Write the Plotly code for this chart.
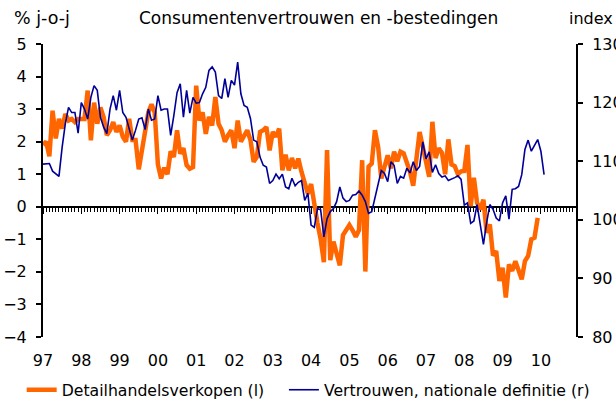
import plotly.graph_objects as go

# ---------------- data ----------------
year_labels = ["97", "98", "99", "00", "01", "02", "03", "04", "05", "06", "07", "08", "09", "10"]

# Detailhandelsverkopen, % j-o-j (left axis), monthly from Jan 1997
retail_sales = [
    1.9, 2.0, 1.55, 2.95, 2.1, 2.7, 2.4, 2.85, 2.65, 2.7, 2.6, 2.7,
    2.7, 2.7, 3.57, 2.04, 3.2, 2.55, 3.05, 2.75, 2.2, 2.35, 2.6, 2.3,
    2.5, 2.15, 2.0, 2.7, 2.05, 2.05, 1.15, 1.75, 2.4, 2.9, 3.15, 2.9,
    1.3, 0.87, 1.2, 1.0, 1.7, 1.53, 2.35, 1.63, 1.8, 1.28, 1.17, 1.22,
    3.72, 2.65, 2.9, 2.24, 2.76, 2.5, 3.37, 2.55, 2.35, 2.0, 2.2, 2.35,
    1.8, 2.65, 2.0, 2.15, 2.35, 2.05, 1.38, 1.53, 2.3, 2.35, 2.45, 1.73,
    2.3, 2.15, 2.4, 1.12, 1.6, 1.12, 1.5, 1.18, 1.48, 1.07, 0.72, 0.4,
    0.7, 0.0, -0.5, -1.0, -1.7, 1.74, -1.64, -1.07, -1.5, -1.8, -0.87, -0.72,
    -0.56, -0.72, -0.92, -0.72, 1.43, -1.99, 1.23, 1.33, 2.35, 1.84, 0.87, 1.23,
    1.58, 1.18, 1.69, 1.4, 1.69, 1.64, 1.4, 1.07, 0.65, 1.6, 2.3, 1.84,
    1.38, 0.92, 2.61, 1.5, 1.8, 1.66, 1.0, 2.07, 1.3, 1.25, 1.0, 1.09,
    1.1, 1.9, 0.02, 0.89, 0.12, -0.08, 0.22, -0.8, -0.54, -1.5, -1.36, -2.28,
    -1.87, -2.79, -1.77, -1.97, -1.67, -1.92, -2.23, -1.67, -1.51, -1.0, -0.95, -0.34,
]

# Vertrouwen, nationale definitie, index (right axis), monthly from Jan 1997
confidence = [
    109.5, 109.5, 109.6, 108.3, 107.8, 107.4, 112.4, 116.4, 119.2, 118.3, 118.3, 114.8,
    120.0, 118.9, 117.2, 120.9, 122.9, 122.1, 117.5, 115.8, 114.7, 118.9, 121.2, 118.7,
    122.1, 118.3, 117.5, 115.3, 113.6, 115.3, 117.2, 117.4, 115.4, 118.9, 117.0, 117.2,
    121.2, 118.7, 118.9, 118.9, 114.4, 117.8, 121.7, 123.2, 117.5, 122.1, 118.2, 120.9,
    119.9, 120.0, 121.5, 122.6, 125.5, 126.1, 125.2, 121.2, 120.7, 124.1, 120.9, 123.8,
    123.0, 126.9, 121.5, 119.5, 119.2, 117.3, 113.6, 113.3, 110.7, 109.3, 109.0, 106.2,
    106.7, 107.8, 107.0, 107.8, 105.6, 105.3, 107.1, 105.8, 106.4, 106.7, 103.3, 104.5,
    99.1, 98.7, 101.9, 101.7, 97.1, 100.2, 101.4, 101.9, 103.1, 105.6, 103.7, 103.1,
    103.3, 104.2, 104.3, 104.9, 104.2, 103.1, 101.1, 101.4, 103.7, 106.5, 108.4, 107.9,
    106.5, 109.9, 109.3, 106.2, 107.4, 107.1, 108.8, 108.0, 109.9, 108.4, 109.1, 113.3,
    110.4, 111.6, 108.1, 109.4, 107.9, 107.3, 107.5, 106.7, 106.9, 107.2, 107.5, 106.9,
    102.5, 102.9, 99.4, 99.8, 102.6, 99.5, 95.8, 99.5, 102.6, 101.8, 100.3, 99.8,
    102.9, 104.1, 100.1, 105.2, 105.3, 105.7, 107.7, 112.0, 113.6, 111.7, 112.7, 113.7,
    111.7, 107.7,
]

months_retail = list(range(len(retail_sales)))
months_conf = list(range(len(confidence)))
year_ticks = [12 * i for i in range(len(year_labels))]

FONT = "DejaVu Sans"
ORANGE = "#FF6600"
BLUE = "#000099"
X_RANGE = [0, 167]

fig = go.Figure()
fig.add_trace(go.Scatter(
    x=months_retail, y=retail_sales, mode="lines",
    name="Detailhandelsverkopen (l)",
    line=dict(color=ORANGE, width=4.5),
    xaxis="x", yaxis="y", legend="legend",
))
fig.add_trace(go.Scatter(
    x=months_conf, y=confidence, mode="lines",
    name="Vertrouwen, nationale definitie (r)",
    line=dict(color=BLUE, width=1.6),
    xaxis="x2", yaxis="y2", legend="legend2",
))

legend_common = dict(
    orientation="h", y=-0.181, xanchor="left", yanchor="middle",
    font=dict(size=15.7), itemwidth=30,
    bgcolor="rgba(0,0,0,0)", borderwidth=0,
)

fig.update_layout(
    width=616, height=400,
    margin=dict(l=43, r=40, t=44, b=63, autoexpand=False),
    paper_bgcolor="white", plot_bgcolor="white",
    font=dict(family=FONT, size=16, color="black"),
    showlegend=True,
    legend=dict(x=-0.04, **legend_common),
    legend2=dict(x=0.452, **legend_common),
    # zero line with monthly ticks
    xaxis=dict(
        range=X_RANGE, anchor="free", position=4 / 9,
        showline=True, linecolor="black", linewidth=2,
        ticks="outside", tickmode="linear", tick0=0, dtick=12,
        ticklen=6, tickwidth=1, tickcolor="black",
        minor=dict(ticks="outside", tickmode="linear", tick0=0, dtick=1,
                   ticklen=4, tickwidth=1, tickcolor="black", showgrid=False),
        showticklabels=False, showgrid=False, zeroline=False,
        layer="below traces", automargin=False,
    ),
    # year labels at the bottom
    xaxis2=dict(
        range=X_RANGE, overlaying="x", anchor="y2", side="bottom",
        tickmode="array", tickvals=year_ticks, ticktext=year_labels,
        ticks="", showline=False, showgrid=False, zeroline=False,
        ticklabelstandoff=12, tickfont=dict(size=16), automargin=False,
    ),
    yaxis=dict(
        range=[-4, 5], tickmode="linear", tick0=0, dtick=1,
        showline=True, linecolor="black", linewidth=2,
        ticks="outside", ticklen=5, tickwidth=1.5, tickcolor="black",
        showgrid=False, zeroline=False, anchor="x",
        ticklabelstandoff=6, tickfont=dict(size=16), automargin=False,
    ),
    yaxis2=dict(
        range=[80, 130], tickmode="linear", tick0=80, dtick=10,
        overlaying="y", side="right", anchor="x2",
        showline=True, linecolor="black", linewidth=2,
        ticks="outside", ticklen=5, tickwidth=1.5, tickcolor="black",
        showgrid=False, zeroline=False,
        ticklabelstandoff=6, tickfont=dict(size=16), automargin=False,
    ),
    annotations=[
        dict(text="Consumentenvertrouwen en -bestedingen", xref="paper", yref="paper",
             x=0.516, y=1.0887, xanchor="center", yanchor="middle",
             showarrow=False, font=dict(size=17)),
        dict(text="% j-o-j", xref="paper", yref="paper",
             x=-0.0582, y=1.0887, xanchor="left", yanchor="middle",
             showarrow=False, font=dict(size=17.5)),
        dict(text="index", xref="paper", yref="paper",
             x=0.983, y=1.0887, xanchor="left", yanchor="middle",
             showarrow=False, font=dict(size=16)),
    ],
)

# remove the browser's default 8px body margin so the figure fills the window
fig.write_html(
    "out.html",
    config={"displayModeBar": False},
    post_script="document.body.style.margin='0px';",
)
